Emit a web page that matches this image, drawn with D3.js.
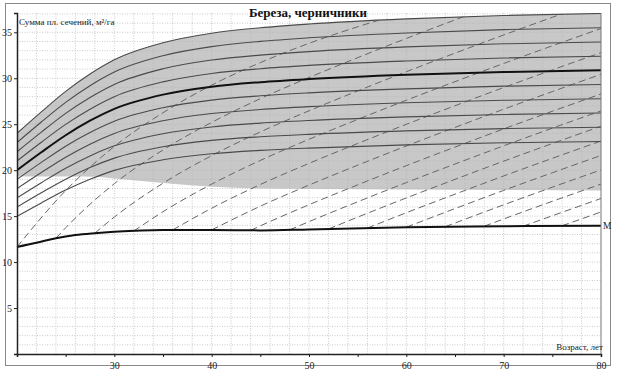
<!DOCTYPE html>
<html>
<head>
<meta charset="utf-8">
<script src="https://cdn.jsdelivr.net/npm/d3@7"></script>
<style>
  body { margin: 0; background: #fff; }
  svg { display: block; font-family: "Liberation Serif", "DejaVu Serif", serif; }
</style>
</head>
<body>
<div id="chart"></div>
<script>
// возраст, лет (точки, в которых прочитаны кривые)
var ages = [20, 22.5, 25, 27.5, 30, 35, 40, 45, 50, 60, 70, 80];

// сплошные кривые (сумма площадей сечений, м2/га); первая - верхняя граница полосы
var indexCurves = [
    [24.01, 26.34, 28.57, 30.46, 32.01, 33.86, 34.90, 35.49, 35.90, 36.46, 36.83, 37.05],
    [23.00, 25.24, 27.37, 29.18, 30.67, 32.45, 33.44, 34.01, 34.40, 34.93, 35.29, 35.50],
    [22.00, 24.14, 26.18, 27.91, 29.33, 31.03, 31.98, 32.52, 32.90, 33.41, 33.75, 33.95],
    [21.00, 23.04, 24.98, 26.63, 27.99, 29.61, 30.52, 31.04, 31.40, 31.88, 32.21, 32.40],
    [20.00, 21.95, 23.80, 25.38, 26.67, 28.22, 29.08, 29.57, 29.91, 30.38, 30.68, 30.87],
    [19.00, 20.85, 22.61, 24.10, 25.33, 26.80, 27.62, 28.09, 28.41, 28.85, 29.14, 29.32],
    [17.99, 19.74, 21.41, 22.83, 23.99, 25.38, 26.16, 26.60, 26.91, 27.33, 27.60, 27.77],
    [16.99, 18.64, 20.22, 21.55, 22.65, 23.97, 24.70, 25.12, 25.41, 25.80, 26.06, 26.22],
    [15.99, 17.54, 19.02, 20.28, 21.31, 22.55, 23.24, 23.63, 23.90, 24.28, 24.52, 24.67],
    [14.98, 16.44, 17.83, 19.00, 19.98, 21.13, 21.78, 22.15, 22.40, 22.75, 22.98, 23.12]
];
var mainCurve = 4;

// нижняя граница серой полосы
var bandLowAges = [20, 25, 28, 30, 35, 40, 45, 50, 60, 70, 80];
var bandLowVals = [19.3, 19.32, 19.28, 19.1, 18.6, 18.2, 18.0, 17.95, 17.9, 17.85, 17.8];

// линия М
var mAges = [20, 22, 24, 26, 28, 30, 35, 40, 45, 50, 60, 70, 80];
var mVals = [11.65, 12.1, 12.6, 12.95, 13.15, 13.3, 13.5, 13.5, 13.45, 13.55, 13.8, 13.9, 13.95];

// пунктирные линии [возраст, значение]
var dashLines = [
    [[20, 11.65], [25, 17.78], [30, 22.58], [35, 26.25], [40, 29.25], [45, 31.7], [50, 33.8], [55, 35.6], [60, 37.2]],
    [[24, 12.6], [25, 13.73], [30, 18.53], [35, 22.2], [40, 25.2], [45, 27.78], [50, 30.08], [55, 32.24], [60, 34.33], [65, 36.35], [70, 38.33]],
    [[28, 13.15], [30, 14.9], [35, 18.58], [40, 21.58], [45, 24.16], [50, 26.46], [55, 28.62], [60, 30.71], [65, 32.73], [70, 34.71], [75, 36.63], [80, 38.51]],
    [[32, 13.38], [35, 15.48], [40, 18.48], [45, 21.06], [50, 23.36], [55, 25.52], [60, 27.61], [65, 29.63], [70, 31.61], [75, 33.53], [80, 35.41]],
    [[36, 13.5], [40, 15.86], [45, 18.44], [50, 20.74], [55, 22.9], [60, 24.99], [65, 27.01], [70, 28.99], [75, 30.91], [80, 32.79]],
    [[40, 13.5], [45, 16.08], [50, 18.38], [55, 20.54], [60, 22.63], [65, 24.65], [70, 26.63], [75, 28.55], [80, 30.43]],
    [[44, 13.45], [45, 13.94], [50, 16.24], [55, 18.4], [60, 20.49], [65, 22.51], [70, 24.49], [75, 26.41], [80, 28.29]],
    [[48, 13.5], [50, 14.4], [55, 16.56], [60, 18.65], [65, 20.67], [70, 22.65], [75, 24.57], [80, 26.45]],
    [[52, 13.6], [55, 14.89], [60, 16.98], [65, 19.0], [70, 20.98], [75, 22.9], [80, 24.78]],
    [[56, 13.7], [60, 15.37], [65, 17.39], [70, 19.37], [75, 21.29], [80, 23.17]],
    [[60, 13.8], [65, 15.82], [70, 17.8], [75, 19.72], [80, 21.6]],
    [[64, 13.85], [65, 14.25], [70, 16.23], [75, 18.15], [80, 20.03]],
    [[68, 13.9], [70, 14.69], [75, 16.61], [80, 18.49]],
    [[72, 13.9], [75, 15.04], [80, 16.92]],
    [[76, 13.95], [80, 15.45]]
];

var xTicks = [20, 25, 30, 35, 40, 45, 50, 55, 60, 65, 70, 75, 80];
var yTicks = [0, 5, 10, 15, 20, 25, 30, 35];
var xGrid = [22, 24, 26, 28, 30, 32, 34, 36, 38, 40, 42, 44, 46, 48, 50, 52, 54, 56, 58, 60, 62, 64, 66, 68, 70, 72, 74, 76, 78];
var yGrid = [1, 2, 3, 4, 5, 6, 7, 8, 9, 10, 11, 12, 13, 14, 15, 16, 17, 18, 19, 20, 21, 22, 23, 24, 25, 26, 27, 28, 29, 30, 31, 32, 33, 34, 35, 36, 37];

var width = 619;
var height = 370;

var svg = d3.select("#chart")
    .append("svg")
    .attr("width", width)
    .attr("height", height)
    .style("background-color", "white");

var x = d3.scaleLinear().domain([20, 80]).range([17, 601]);
var y = d3.scaleLinear().domain([0, 37.1]).range([354, 13]);

// рамка
svg.append("rect")
    .attr("x", 5.5).attr("y", 3.5)
    .attr("width", 605).attr("height", 362)
    .attr("fill", "none")
    .attr("stroke", "#8a8a8a");

var topPts = ages.map(function (a, i) { return [a, indexCurves[0][i]]; });
var areaUnder = d3.area()
    .x(function (d) { return x(d[0]); })
    .y0(y(0))
    .y1(function (d) { return y(d[1]); })
    .curve(d3.curveMonotoneX);

var defs = svg.append("defs");
defs.append("clipPath").attr("id", "underTop")
    .append("path").attr("d", areaUnder(topPts));
defs.append("clipPath").attr("id", "plot")
    .append("rect")
    .attr("x", x(20)).attr("y", y(37.1))
    .attr("width", x(80) - x(20)).attr("height", y(0) - y(37.1));

// серая полоса: всё под верхней кривой, затем белым под нижней границей
svg.append("path")
    .attr("d", areaUnder(topPts))
    .attr("fill", "#c8c8c8");
svg.append("path")
    .attr("d", areaUnder(bandLowAges.map(function (a, i) { return [a, bandLowVals[i]]; })))
    .attr("fill", "white");

// сетка
var grid = svg.append("g").attr("stroke", "#b4b4b4").attr("stroke-width", 0.7)
    .attr("stroke-dasharray", "1,1.5");
grid.selectAll(".vg").data(xGrid).enter().append("line")
    .attr("x1", function (d) { return x(d); }).attr("x2", function (d) { return x(d); })
    .attr("y1", y(0)).attr("y2", y(37.1));
grid.selectAll(".hg").data(yGrid).enter().append("line")
    .attr("y1", function (d) { return y(d); }).attr("y2", function (d) { return y(d); })
    .attr("x1", x(20)).attr("x2", x(80));

var line = d3.line()
    .x(function (d) { return x(d[0]); })
    .y(function (d) { return y(d[1]); })
    .curve(d3.curveMonotoneX);

// пунктир
svg.append("g")
    .attr("clip-path", "url(#underTop)")
    .selectAll("path")
    .data(dashLines)
    .enter()
    .append("path")
    .attr("d", line)
    .attr("fill", "none")
    .attr("stroke", "#666")
    .attr("stroke-width", 1)
    .attr("stroke-dasharray", "7,4");

// сплошные кривые
svg.append("g")
    .attr("clip-path", "url(#plot)")
    .selectAll("path")
    .data(indexCurves)
    .enter()
    .append("path")
    .attr("d", function (c) { return line(ages.map(function (a, i) { return [a, c[i]]; })); })
    .attr("fill", "none")
    .attr("stroke", function (c, i) { return i === mainCurve ? "#111" : "#4a4a4a"; })
    .attr("stroke-width", function (c, i) { return i === mainCurve ? 2 : 1.1; });

// линия М
svg.append("path")
    .attr("d", line(mAges.map(function (a, i) { return [a, mVals[i]]; })))
    .attr("fill", "none")
    .attr("stroke", "#111")
    .attr("stroke-width", 2);

// оси
var xAxis = svg.append("g")
    .attr("transform", "translate(0," + y(0) + ")")
    .call(d3.axisBottom(x).tickValues(xTicks).tickSize(3)
        .tickFormat(function (d) { return (d % 10 === 0 && d > 20) ? d : ""; }));
var yAxis = svg.append("g")
    .attr("transform", "translate(" + x(20) + ",0)")
    .call(d3.axisLeft(y).tickValues(yTicks).tickSize(3)
        .tickFormat(function (d) { return d > 0 ? d : ""; }));
[xAxis, yAxis].forEach(function (ax) {
    ax.select(".domain").attr("stroke", "#222").attr("stroke-width", 1.5);
    ax.selectAll(".tick line").attr("stroke", "#222");
    ax.selectAll(".tick text")
        .attr("font-family", "Liberation Serif, DejaVu Serif, serif")
        .attr("font-size", 10)
        .attr("fill", "#222");
});
xAxis.selectAll(".tick text").attr("dy", "0.9em");
yAxis.selectAll(".tick text").attr("dx", "0.1em");

svg.append("line")
    .attr("x1", x(80)).attr("x2", x(80))
    .attr("y1", y(37.1)).attr("y2", y(0))
    .attr("stroke", "#777");

// подписи
svg.append("text")
    .attr("x", 308).attr("y", 17)
    .attr("text-anchor", "middle")
    .attr("font-size", 13)
    .attr("font-weight", "bold")
    .attr("fill", "#111")
    .text("Береза, черничники");

svg.append("text")
    .attr("x", 19).attr("y", 25)
    .attr("font-size", 9)
    .attr("fill", "#222")
    .text("Сумма пл. сечений, м²/га");

svg.append("text")
    .attr("x", 603).attr("y", 350)
    .attr("text-anchor", "end")
    .attr("font-size", 9)
    .attr("fill", "#222")
    .text("Возраст, лет");

svg.append("text")
    .attr("x", 603).attr("y", y(13.95) + 3.5)
    .attr("font-size", 9.5)
    .attr("fill", "#222")
    .text("М");
</script>
</body>
</html>
